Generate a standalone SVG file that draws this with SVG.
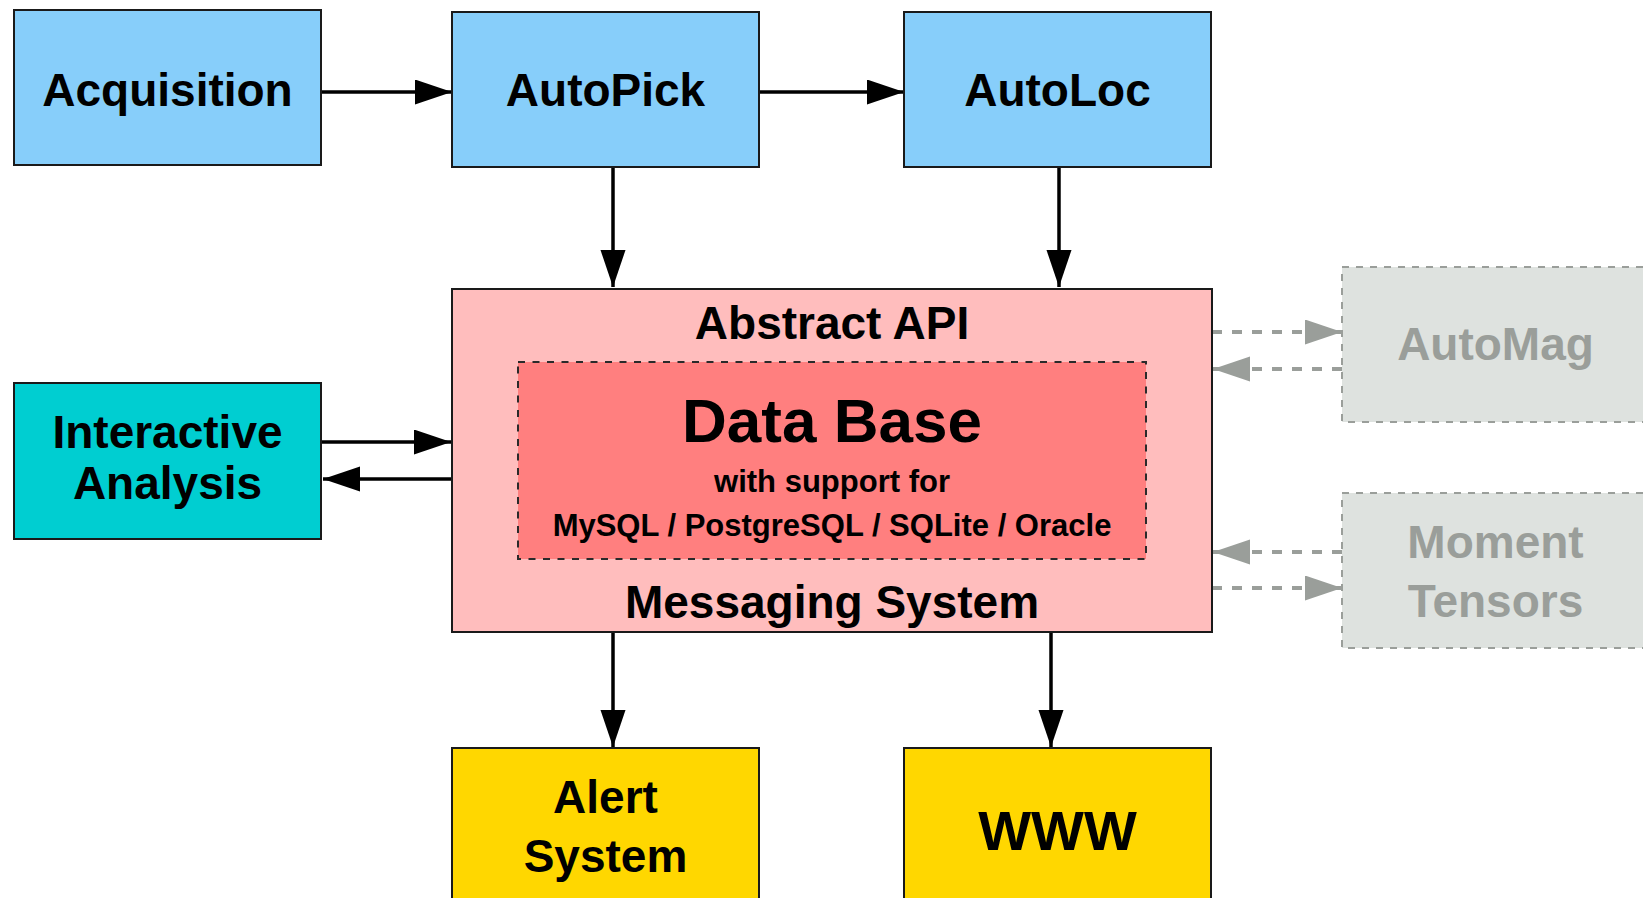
<svg xmlns="http://www.w3.org/2000/svg" width="1643" height="898" viewBox="0 0 1643 898">
<style>
  .box{stroke:#1a1a1a;stroke-width:2}
  .blue{fill:#87cefa}
  .teal{fill:#00ced1}
  .gold{fill:#ffd700}
  .pink{fill:#ffbdbd}
  .red{fill:#ff7f7f;stroke:#2a2a2a;stroke-width:2;stroke-dasharray:7 7.5}
  .ghost{fill:#dee2df;stroke:#9a9e9a;stroke-width:2;stroke-dasharray:7 7}
  text{font-family:"Liberation Sans",Arial,sans-serif;font-weight:bold;text-anchor:middle;fill:#000}
  .t46{font-size:46px}
  .t31{font-size:31px}
  .gt{fill:#9a9e9a}
  .c{fill:none;stroke:#000;stroke-width:3.5}
  .d{fill:none;stroke:#9a9e9a;stroke-width:4;stroke-dasharray:10 10}
</style>
<defs>
  <marker id="ah" markerUnits="userSpaceOnUse" markerWidth="38" markerHeight="26" refX="37" refY="12.5" orient="auto">
    <path d="M0,0 L37,12.5 L0,25 z" fill="#000"/>
  </marker>
  <marker id="ahg" markerUnits="userSpaceOnUse" markerWidth="38" markerHeight="26" refX="37" refY="12.5" orient="auto">
    <path d="M0,0 L37,12.5 L0,25 z" fill="#9a9e9a"/>
  </marker>
</defs>
<rect width="1643" height="898" fill="#fff"/>

<g id="connectors">
  <path class="c" d="M321,92 L452,92" marker-end="url(#ah)"/>
  <path class="c" d="M759,92 L904,92" marker-end="url(#ah)"/>
  <path class="c" d="M613,167 L613,287" marker-end="url(#ah)"/>
  <path class="c" d="M1059,167 L1059,287" marker-end="url(#ah)"/>
  <path class="c" d="M321,442 L451,442" marker-end="url(#ah)"/>
  <path class="c" d="M452,479 L323,479" marker-end="url(#ah)"/>
  <path class="c" d="M613,632 L613,747" marker-end="url(#ah)"/>
  <path class="c" d="M1051,632 L1051,747" marker-end="url(#ah)"/>
  <path class="d" d="M1212,332 L1342,332" marker-end="url(#ahg)"/>
  <path class="d" d="M1342,369 L1213,369" marker-end="url(#ahg)"/>
  <path class="d" d="M1342,552 L1213,552" marker-end="url(#ahg)"/>
  <path class="d" d="M1212,588 L1342,588" marker-end="url(#ahg)"/>
</g>

<g id="acquisition">
  <rect class="box blue" x="14" y="10" width="307" height="155"/>
  <text class="t46" x="167.5" y="106">Acquisition</text>
</g>
<g id="autopick">
  <rect class="box blue" x="452" y="12" width="307" height="155"/>
  <text class="t46" x="605.5" y="106">AutoPick</text>
</g>
<g id="autoloc">
  <rect class="box blue" x="904" y="12" width="307" height="155"/>
  <text class="t46" x="1057.5" y="106">AutoLoc</text>
</g>
<g id="interactive">
  <rect class="box teal" x="14" y="383" width="307" height="156"/>
  <text class="t46" x="167.5" y="448">Interactive</text>
  <text class="t46" x="167.5" y="499">Analysis</text>
</g>
<g id="core">
  <rect class="box pink" x="452" y="289" width="760" height="343"/>
  <text class="t46" x="832" y="339">Abstract API</text>
  <text class="t46" x="832" y="618">Messaging System</text>
</g>
<g id="database">
  <rect class="red" x="518" y="362" width="628" height="197"/>
  <text style="font-size:62px" x="832" y="442">Data Base</text>
  <text class="t31" x="832" y="492">with support for</text>
  <text class="t31" x="832" y="536">MySQL / PostgreSQL / SQLite / Oracle</text>
</g>
<g id="automag">
  <rect class="ghost" x="1342" y="267" width="307" height="155"/>
  <text class="t46 gt" x="1495.5" y="360">AutoMag</text>
</g>
<g id="moment">
  <rect class="ghost" x="1342" y="493" width="307" height="155"/>
  <text class="t46 gt" x="1495.5" y="558">Moment</text>
  <text class="t46 gt" x="1495.5" y="617">Tensors</text>
</g>
<g id="alert">
  <rect class="box gold" x="452" y="748" width="307" height="200"/>
  <text class="t46" x="605.5" y="813">Alert</text>
  <text class="t46" x="605.5" y="872">System</text>
</g>
<g id="www">
  <rect class="box gold" x="904" y="748" width="307" height="200"/>
  <text style="font-size:56px" x="1057.5" y="850">WWW</text>
</g>
</svg>
